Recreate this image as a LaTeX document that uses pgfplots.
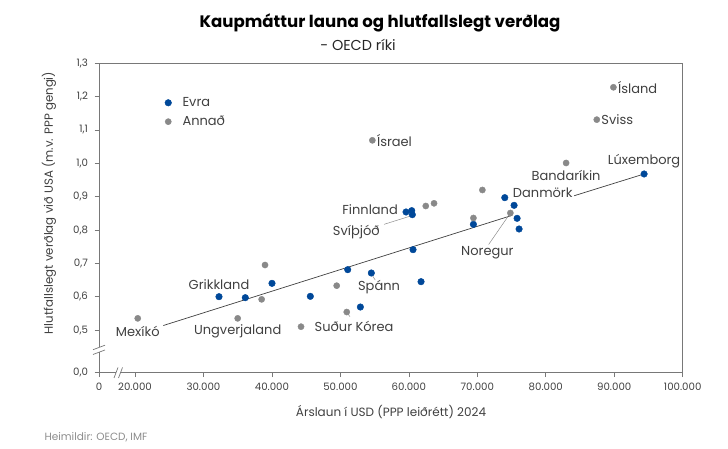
\documentclass[border=0pt]{standalone}
\usepackage{fontspec}
\setmainfont{Poppins}
\usepackage{pgfplots}
\pgfplotsset{compat=1.18}
\definecolor{evra}{RGB}{0,72,153}
\definecolor{annad}{RGB}{137,137,137}
\definecolor{txt}{RGB}{64,64,64}
\definecolor{frm}{RGB}{120,120,120}
\definecolor{src}{RGB}{140,140,140}
\tikzset{lab/.style={font=\fontsize{13}{15}\selectfont, text=txt, inner sep=0.5pt}}

\pgfplotstableread{
x y
32270 0.600
36110 0.597
40010 0.640
45610 0.601
51070 0.681
52920 0.569
54520 0.671
59590 0.854
60420 0.858
60510 0.846
60610 0.741
61780 0.645
69430 0.817
74010 0.897
75370 0.874
75810 0.835
76100 0.803
94360 0.968
}\evra

\pgfplotstableread{
x y
20400 0.535
35000 0.535
38500 0.592
38990 0.695
44250 0.510
49460 0.633
50930 0.554
54670 1.069
62470 0.872
63680 0.880
69430 0.836
70740 0.920
74830 0.851
82970 1.001
87450 1.131
89880 1.228
}\annad

\begin{document}
\begin{tikzpicture}[x=1pt,y=1pt]
\useasboundingbox (0,0) rectangle (728,449);
\begin{axis}[
  scale only axis, width=583.7pt, height=309.4pt,
  at={(99pt,76.3pt)}, anchor=south west,
  xmin=14741, xmax=100000, ymin=0.372, ymax=1.3,
  scaled x ticks=false, scaled y ticks=false,
  xtick={14741,20000,30000,40000,50000,60000,70000,80000,90000,100000},
  xticklabels={0,20.000,30.000,40.000,50.000,60.000,70.000,80.000,90.000,100.000},
  ytick={0.372,0.5,0.6,0.7,0.8,0.9,1.0,1.1,1.2,1.3},
  yticklabels={{0,0},{0,5},{0,6},{0,7},{0,8},{0,9},{1,0},{1,1},{1,2},{1,3}},
  tick align=outside, xtick pos=left, ytick pos=left,
  major tick length=4.5pt,
  tick style={frm, line width=0.6pt},
  axis line style={frm, line width=0.7pt},
  ticklabel style={font=\fontsize{10.2}{12}\selectfont, text=txt},
  yticklabel style={xshift=-3pt},
  xticklabel style={yshift=-2pt},
  clip=false,
  legend cell align=left,
  legend style={at={(0.1075,0.903)}, anchor=north west, draw=none, fill=none,
    font=\fontsize{13}{15}\selectfont, text=txt, row sep=4pt},
]
\addplot[only marks, mark=*, mark size=3.3pt, evra, mark options={draw=evra, fill=evra}] table[x=x,y=y] {\evra};
\addlegendentry{\hspace{9pt}Evra}
\addplot[only marks, mark=*, mark size=3.1pt, annad, mark options={draw=annad, fill=annad}] table[x=x,y=y] {\annad};
\addlegendentry{\hspace{9pt}Annað}
% trend line (two visible segments)
\addplot[forget plot, black!75, line width=0.7pt] coordinates {(24134,0.5135) (75077,0.8439)};
\addplot[forget plot, black!75, line width=0.7pt] coordinates {(84135,0.9027) (94360,0.968)};
% leader lines
\draw[black!45, line width=0.5pt] (axis cs:74830,0.851) -- (axis cs:71650,0.7563);
\draw[black!45, line width=0.5pt] (axis cs:60420,0.843) -- (axis cs:56380,0.817);
\draw[black!45, line width=0.5pt] (axis cs:54690,0.663) -- (axis cs:55090,0.650);
\draw[black!45, line width=0.5pt] (axis cs:51020,0.550) -- (axis cs:51410,0.540);
% labels
\node[lab, anchor=west] at (axis cs:89880,1.228) [xshift=4pt] {Ísland};
\node[lab, anchor=west] at (axis cs:87450,1.131) [xshift=4pt] {Sviss};
\node[lab, anchor=west] at (axis cs:54670,1.069) [xshift=4pt] {Ísrael};
\node[lab] at (axis cs:94360,0.968) [yshift=12.5pt] {Lúxemborg};
\node[lab] at (axis cs:82970,1.001) [yshift=-12.4pt] {Bandaríkin};
\node[lab, anchor=west] at (axis cs:74010,0.897) [xshift=7.5pt, yshift=5pt] {Danmörk};
\node[lab] at (axis cs:74830,0.851) [xshift=-23pt, yshift=-40pt] {Noregur};
\node[lab, anchor=east] at (axis cs:59590,0.854) [xshift=-7.5pt, yshift=2.3pt] {Finnland};
\node[lab] at (axis cs:60510,0.846) [xshift=-56pt, yshift=-17.7pt] {Svíþjóð};
\node[lab] at (axis cs:54520,0.671) [xshift=7.7pt, yshift=-14.3pt] {Spánn};
\node[lab] at (axis cs:50930,0.554) [xshift=7.3pt, yshift=-14.7pt] {Suður Kórea};
\node[lab] at (axis cs:32270,0.600) [yshift=12.4pt] {Grikkland};
\node[lab] at (axis cs:35000,0.535) [yshift=-12.7pt] {Ungverjaland};
\node[lab] at (axis cs:20400,0.535) [yshift=-12.7pt] {Mexíkó};
\end{axis}
% axis breaks
\fill[white] (116.2,72) rectangle (120.3,81);
\draw[frm, line width=0.7pt] (114,71) -- (118,81.5);
\draw[frm, line width=0.7pt] (118.5,71) -- (122.5,81.5);
\fill[white] (95,97) rectangle (103,101.6);
\draw[frm, line width=0.7pt] (93,94.5) -- (105,99);
\draw[frm, line width=0.7pt] (93,99.3) -- (105,103.8);
% titles and labels
\node[font=\bfseries\fontsize{16.6}{19}\selectfont] at (380,426) {Kaupmáttur launa og hlutfallslegt verðlag};
\node[font=\fontsize{14.4}{17}\selectfont, text=black!85] at (358,404) {- OECD ríki};
\node[font=\fontsize{12}{14}\selectfont, text=txt] at (391,37) {Árslaun í USD (PPP leiðrétt) 2024};
\node[font=\fontsize{11.8}{14}\selectfont, text=txt, rotate=90] at (49,246) {Hlutfallslegt verðlag við USA (m.v. PPP gengi)};
\node[font=\fontsize{10.5}{12}\selectfont, text=src, anchor=west] at (41,12) {Heimildir: OECD, IMF};
\end{tikzpicture}
\end{document}
